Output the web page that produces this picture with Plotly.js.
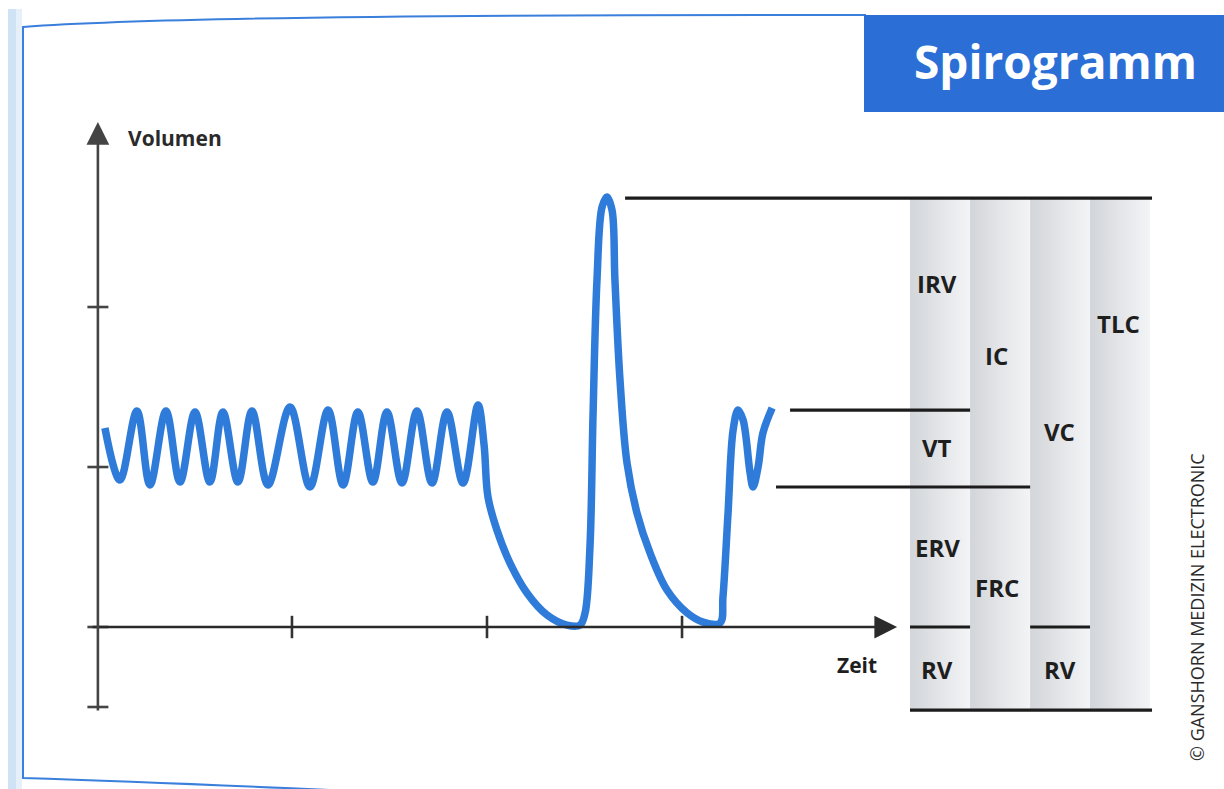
<!DOCTYPE html>
<html>
<head>
<meta charset="utf-8">
<script src="https://cdn.plot.ly/plotly-3.0.1.min.js"></script>
<style>
  html, body { margin: 0; padding: 0; background: #ffffff; }
  #chart { width: 1224px; height: 789px; }
</style>
</head>
<body>
<div id="chart"></div>
<script>
// ---------- DATA (time in tick units, volume in tick units; 0 = residual volume level) ----------
// Spirogram curve: tidal breathing, max. expiration, max. inspiration, expiration, tidal again
const breathT = [0.041, 0.118, 0.205, 0.272, 0.354, 0.426, 0.503, 0.579, 0.646, 0.723,
                 0.795, 0.877, 0.990, 1.092, 1.185, 1.262, 1.338, 1.415, 1.487, 1.564,
                 1.641, 1.718, 1.795, 1.877, 1.954, 1.985, 2.005, 2.051, 2.118, 2.205,
                 2.308, 2.410, 2.477, 2.503, 2.528, 2.544, 2.564, 2.590, 2.615, 2.641,
                 2.656, 2.682, 2.718, 2.769, 2.836, 2.923, 3.026, 3.108, 3.195, 3.210,
                 3.236, 3.262, 3.287, 3.313, 3.349, 3.364, 3.390, 3.415, 3.462];
const breathV = [1.244, 0.919, 1.350, 0.888, 1.350, 0.906, 1.344, 0.906, 1.344, 0.906,
                 1.350, 0.888, 1.375, 0.875, 1.356, 0.888, 1.344, 0.906, 1.344, 0.900,
                 1.350, 0.900, 1.344, 0.900, 1.388, 1.138, 0.813, 0.606, 0.400, 0.213,
                 0.075, 0.012, 0.012, 0.088, 0.500, 1.338, 2.169, 2.625, 2.688, 2.606,
                 2.169, 1.544, 1.025, 0.713, 0.463, 0.231, 0.088, 0.031, 0.025, 0.188,
                 0.713, 1.231, 1.356, 1.294, 0.963, 0.875, 1.000, 1.213, 1.369];

// Reference level lines
const levelY  = [2.681, 1.356, 0.875, 0.000, 0.000, -0.519];
const levelX0 = [2.708, 3.554, 3.482, 4.169, 4.785, 4.169];
const levelX1 = [5.410, 4.477, 4.785, 4.477, 5.092, 5.410];

// Volume columns
const colEdges = [4.169, 4.477, 4.785, 5.092, 5.400];
const colTop = 2.681;
const colBottom = -0.519;

// Volume labels
const volLabels = ['IRV', 'VT', 'ERV', 'RV', 'IC', 'FRC', 'VC', 'RV', 'TLC'];
const volLabelT = [4.308, 4.308, 4.308, 4.308, 4.615, 4.615, 4.938, 4.938, 5.236];
const volLabelV = [2.150, 1.119, 0.494, -0.265, 1.700, 0.244, 1.219, -0.265, 1.900];

// Axes
const xTicks = [1, 2, 3];
const yTicks = [-0.5, 0, 1, 2];
const xAxisEnd = 4.103;
const yAxisTop = 3.156;
const yAxisBottom = -0.531;

// ---------- helpers for decoration in paper coordinates ----------
const W = 1224, H = 789;
const px = v => v / W;
const py = v => 1 - v / H;

const traces = [];

// columns with horizontal gradient
for (let i = 0; i < colEdges.length - 1; i++) {
  traces.push({
    type: 'scatter', mode: 'lines',
    x: [colEdges[i], colEdges[i + 1], colEdges[i + 1], colEdges[i], colEdges[i]],
    y: [colBottom, colBottom, colTop, colTop, colBottom],
    fill: 'toself',
    fillgradient: { type: 'horizontal', colorscale: [[0, '#d2d5d9'], [0.5, '#e3e5e8'], [1, '#f3f4f6']] },
    line: { width: 0, color: 'rgba(0,0,0,0)' },
    hoverinfo: 'skip'
  });
}

// level lines
for (let i = 0; i < levelY.length; i++) {
  traces.push({
    type: 'scatter', mode: 'lines',
    x: [levelX0[i], levelX1[i]], y: [levelY[i], levelY[i]],
    line: { color: '#1c1c1c', width: 3.2 },
    hoverinfo: 'skip'
  });
}

// ticks
traces.push({
  type: 'scatter', mode: 'markers',
  x: xTicks, y: xTicks.map(() => 0),
  marker: { symbol: 'line-ns', size: 16, line: { width: 2.6, color: '#333333' } },
  hoverinfo: 'skip'
});
traces.push({
  type: 'scatter', mode: 'markers',
  x: yTicks.map(() => 0.005), y: yTicks,
  marker: { symbol: 'line-ew', size: 15, line: { width: 2.6, color: '#444444' } },
  hoverinfo: 'skip'
});

// spirogram curve
traces.push({
  type: 'scatter', mode: 'lines',
  x: breathT, y: breathV,
  line: { color: '#2f7bd9', width: 7.5, shape: 'spline', smoothing: 1 },
  hoverinfo: 'skip'
});

const labelFont = { family: 'Open Sans', size: 24, color: '#1e1e1e', weight: 'bold' };

const annotations = [];
volLabels.forEach((t, i) => {
  annotations.push({
    x: volLabelT[i], y: volLabelV[i], xref: 'x', yref: 'y',
    text: '<b>' + t + '</b>', showarrow: false, font: labelFont,
    xanchor: 'center', yanchor: 'middle'
  });
});

// axis lines with arrowheads
annotations.push({
  x: xAxisEnd, y: 0, ax: -0.03, ay: 0, xref: 'x', yref: 'y', axref: 'x', ayref: 'y',
  text: '', showarrow: true, arrowhead: 2, arrowsize: 1.75, arrowwidth: 2.6, arrowcolor: '#2a2a2a'
});
annotations.push({
  x: 0.005, y: yAxisTop, ax: 0.005, ay: yAxisBottom, xref: 'x', yref: 'y', axref: 'x', ayref: 'y',
  text: '', showarrow: true, arrowhead: 2, arrowsize: 1.75, arrowwidth: 2.6, arrowcolor: '#444444'
});

// axis titles
annotations.push({
  x: 0.40, y: 3.056, xref: 'x', yref: 'y', text: '<b>Volumen</b>', showarrow: false,
  font: { family: 'Open Sans', size: 21, color: '#2a2a2a', weight: 'bold' }, xanchor: 'center', yanchor: 'middle'
});
annotations.push({
  x: 3.897, y: -0.2375, xref: 'x', yref: 'y', text: '<b>Zeit</b>', showarrow: false,
  font: { family: 'Open Sans', size: 21, color: '#1e1e1e', weight: 'bold' }, xanchor: 'center', yanchor: 'middle'
});

// title in blue box
annotations.push({
  x: px(1055), y: py(61), xref: 'paper', yref: 'paper', text: '<b>Spirogramm</b>', showarrow: false,
  font: { family: 'Open Sans', size: 46, color: '#ffffff', weight: 'bold' }, xanchor: 'center', yanchor: 'middle'
});

// copyright
annotations.push({
  x: px(1197), y: py(607), xref: 'paper', yref: 'paper', text: '© GANSHORN MEDIZIN ELECTRONIC',
  showarrow: false, textangle: -90,
  font: { family: 'Open Sans', size: 18, color: '#2a2a2a' }, xanchor: 'center', yanchor: 'middle'
});

const shapes = [
  // light blue scan edge on the left
  { type: 'rect', xref: 'paper', yref: 'paper', x0: px(8), x1: px(16), y0: py(789), y1: py(9),
    fillcolor: '#cfe2f6', line: { width: 0 }, layer: 'below' },
  { type: 'rect', xref: 'paper', yref: 'paper', x0: px(16), x1: px(22), y0: py(789), y1: py(9),
    fillcolor: '#e6f0fa', line: { width: 0 }, layer: 'below' },
  // frame line
  { type: 'path', xref: 'paper', yref: 'paper',
    path: 'M ' + px(866) + ',' + py(15) + ' Q ' + px(200) + ',' + py(14) + ' ' + px(23) + ',' + py(27) +
          ' L ' + px(23) + ',' + py(778) + ' Q ' + px(150) + ',' + py(782) + ' ' + px(330) + ',' + py(790),
    line: { color: '#3a7fdc', width: 2 }, layer: 'below' },
  // title box
  { type: 'rect', xref: 'paper', yref: 'paper', x0: px(864), x1: px(1224), y0: py(112), y1: py(15),
    fillcolor: '#2b6fd6', line: { width: 0 }, layer: 'below' }
];

const layout = {
  width: W, height: H,
  margin: { l: 0, r: 0, t: 0, b: 0, pad: 0 },
  paper_bgcolor: '#ffffff', plot_bgcolor: 'rgba(0,0,0,0)',
  showlegend: false,
  xaxis: { range: [-0.497, 5.779], visible: false, fixedrange: true },
  yaxis: { range: [-1.0125, 3.919], visible: false, fixedrange: true },
  annotations: annotations,
  shapes: shapes,
  hovermode: false
};

Plotly.newPlot('chart', traces, layout, { displayModeBar: false, staticPlot: true });
</script>
</body>
</html>
